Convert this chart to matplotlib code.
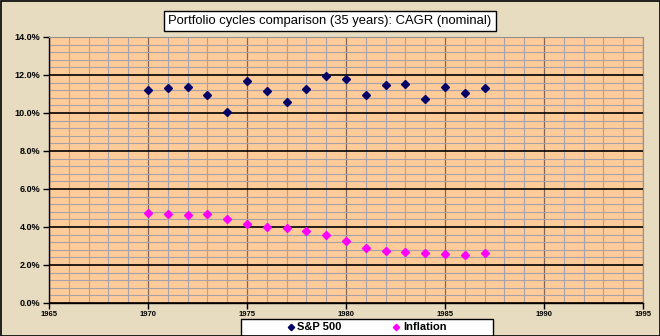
import matplotlib
matplotlib.use("Agg")
import matplotlib.pyplot as plt
from matplotlib.patches import Rectangle
from matplotlib.ticker import MultipleLocator, FuncFormatter

years = list(range(1970, 1988))
sp500 = [11.23, 11.31, 11.36, 10.97, 10.05, 11.70, 11.16, 10.57, 11.25,
         11.95, 11.79, 10.97, 11.47, 11.53, 10.74, 11.37, 11.05, 11.30]
inflation = [4.74, 4.70, 4.63, 4.70, 4.42, 4.14, 3.98, 3.93, 3.79,
             3.58, 3.24, 2.91, 2.75, 2.70, 2.61, 2.56, 2.51, 2.65]
series_names = ["S&P 500", "Inflation"]
title = "Portfolio cycles comparison (35 years): CAGR (nominal)"

W, H = 660, 336
fig = plt.figure(figsize=(W / 100, H / 100), dpi=100)
fig.patch.set_facecolor("#E8DCC0")

narrow = ["Liberation Sans Narrow", "Liberation Sans", "DejaVu Sans"]
sans = ["Liberation Sans", "DejaVu Sans"]

ax = fig.add_axes([49 / W, 1 - 303 / H, (643 - 49) / W, (303 - 37) / H])
ax.set_facecolor("#FFCC99")
ax.set_xlim(1965, 1995)
ax.set_ylim(0, 14)

ax.xaxis.set_major_locator(MultipleLocator(5))
ax.xaxis.set_minor_locator(MultipleLocator(1))
ax.yaxis.set_major_locator(MultipleLocator(2))
ax.yaxis.set_minor_locator(MultipleLocator(0.4))
ax.yaxis.set_major_formatter(FuncFormatter(lambda v, p: f"{v:.1f}%"))

ax.grid(which="minor", axis="both", color="#A8A0A8", linewidth=0.8)
ax.grid(which="major", axis="x", color="#806858", linewidth=0.9)
ax.grid(which="major", axis="y", color="#000000", linewidth=1.2)
ax.set_axisbelow(True)

for s in ("top", "right"):
    ax.spines[s].set_color("#909090")
    ax.spines[s].set_linewidth(0.8)
for s in ("left", "bottom"):
    ax.spines[s].set_color("#000000")
    ax.spines[s].set_linewidth(1.0)

ax.tick_params(which="minor", length=0)
ax.tick_params(which="major", axis="y", length=4, width=1, direction="out", pad=2)
ax.tick_params(which="major", axis="x", length=4, width=1, direction="out", pad=2)
for lab in ax.get_yticklabels():
    lab.set_fontfamily(sans)
    lab.set_fontweight("bold")
    lab.set_fontsize(6.5)
for lab in ax.get_xticklabels():
    lab.set_fontfamily(narrow)
    lab.set_fontweight("bold")
    lab.set_fontsize(5.5)

h1, = ax.plot(years, sp500, linestyle="none", marker="D", markersize=4.3,
              color="#000066", label=series_names[0], zorder=3)
h2, = ax.plot(years, inflation, linestyle="none", marker="D", markersize=4.3,
              color="#FF00FF", label=series_names[1], zorder=3)

# title box
fig.text(0.5, 1 - 21 / H, title, ha="center", va="center", fontsize=9.4,
         family=narrow, color="black",
         bbox=dict(boxstyle="square,pad=0.3", facecolor="white",
                   edgecolor="black", linewidth=1))

# legend box
fig.patches.append(Rectangle((241 / W, 0), (493 - 241) / W, (336 - 319) / H,
                             transform=fig.transFigure, facecolor="white",
                             edgecolor="black", linewidth=1, zorder=1))
leg = fig.legend(handles=[h1, h2], loc="center",
                 bbox_to_anchor=(367 / W, 1 - 327.5 / H), ncol=2,
                 frameon=False, handlelength=0.6, handletextpad=0.3,
                 columnspacing=4.6, markerscale=0.75,
                 prop=dict(family=sans, weight="bold", size=8))
leg.set_zorder(2)

# outer frame
fig.patches.append(Rectangle((0.5 / W, 0.5 / H), 1 - 1 / W, 1 - 1 / H,
                             transform=fig.transFigure, facecolor="none",
                             edgecolor="black", linewidth=1.2, zorder=5))

fig.savefig("out.png", dpi=100, facecolor=fig.get_facecolor())
